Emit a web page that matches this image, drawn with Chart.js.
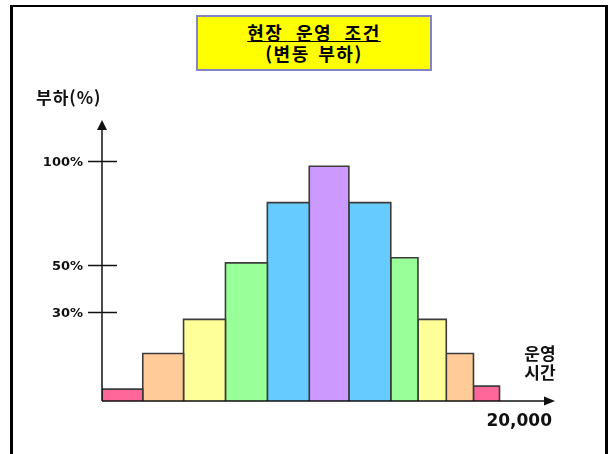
<!DOCTYPE html>
<html lang="ko">
<head>
<meta charset="utf-8">
<title>현장 운영 조건 (변동 부하)</title>
<script src="https://cdn.jsdelivr.net/npm/chart.js@4.4.1/dist/chart.umd.min.js"></script>
<style>
  html, body { margin: 0; padding: 0; background: #fff; }
  #wrap { position: relative; width: 608px; height: 454px; overflow: hidden; }
  #frame {
    position: absolute; left: 10px; top: 5px; width: 598px; height: 470px;
    box-sizing: border-box; border: 3px solid #000; border-top-width: 2px;
  }
  #title {
    position: absolute; left: 196px; top: 15px; width: 236px; height: 56px;
    box-sizing: border-box; background: #ffff00; border: 2px solid #8484c4;
    font-family: "Noto Sans CJK KR", sans-serif; font-weight: bold; color: #000;
    text-align: center; padding-top: 5px;
  }
  #title div { font-size: 18px; line-height: 21px; white-space: nowrap; letter-spacing: 1.5px; }
  #title .main { text-decoration: underline; word-spacing: 6px; }
  #title .sub { word-spacing: 2px; }
  #chart { position: absolute; left: 0; top: 0; }
</style>
</head>
<body>
<div id="wrap">
  <div id="frame"></div>
  <canvas id="chart" width="608" height="454"></canvas>
  <div id="title">
    <div class="main">현장 운영 조건</div>
    <div class="sub">(변동 부하)</div>
  </div>
</div>
<script>
// 데이터: 운영 시간 구간(시간) 경계와 구간별 부하(%)
const hourEdges = [0, 1800, 3600, 5450, 7300, 9150, 10900, 12750, 13950, 15200, 16400, 17550];
const loadPct = [4, 16, 27.5, 51, 80, 97.5, 80, 53.5, 27.5, 16, 5];
const yTicks = [30, 50, 100];
const yTickLabels = ['30%', '50%', '100%'];
const xEndLabel = '20,000';
const yTitle = '부하(%)';
const xTitle = ['운영', '시간'];

// 색상
const PINK = '#ff6699';
const PEACH = '#ffcc99';
const YELLOW = '#ffff99';
const GREEN = '#99ff99';
const BLUE = '#66ccff';
const PURPLE = '#cc99ff';
const barColors = [PINK, PEACH, YELLOW, GREEN, BLUE, PURPLE, BLUE, GREEN, YELLOW, PEACH, PINK];

// 세로축이 균일하지 않은 개념도 -> 구간별 선형 스케일
class PiecewiseScale extends Chart.LinearScale {
  toUnit(v) {
    const k = this.options.knots;
    for (let i = 1; i < k.length; i++) {
      if (v <= k[i][0] || i === k.length - 1) {
        const v0 = k[i - 1][0], u0 = k[i - 1][1], v1 = k[i][0], u1 = k[i][1];
        return u0 + (v - v0) / (v1 - v0) * (u1 - u0);
      }
    }
    return v;
  }
  getPixelForValue(v, index) {
    return super.getPixelForValue(this.toUnit(v), index);
  }
}
PiecewiseScale.id = 'piecewise';
PiecewiseScale.defaults = Chart.LinearScale.defaults;
Chart.register(PiecewiseScale);

// 막대(히스토그램) 하나 = 사각형 꼭짓점 4개
const datasets = loadPct.map((v, i) => ({
  data: [
    { x: hourEdges[i], y: 0 },
    { x: hourEdges[i], y: v },
    { x: hourEdges[i + 1], y: v },
    { x: hourEdges[i + 1], y: 0 }
  ],
  backgroundColor: barColors[i],
  borderColor: '#3c3c3c',
  borderWidth: 1.6,
  borderJoinStyle: 'miter',
  fill: 'origin',
  tension: 0,
  pointRadius: 0
}));

const INK = '#111111';
const KR_FONT = '"Noto Sans CJK KR", sans-serif';

const axesPlugin = {
  id: 'axesArrows',
  afterDatasetsDraw(chart) {
    const { ctx, chartArea: a, scales: { x, y } } = chart;
    const x0 = a.left, y0 = a.bottom;
    ctx.save();
    ctx.strokeStyle = INK;
    ctx.fillStyle = INK;
    ctx.lineWidth = 1.5;

    // 세로축 + 화살표
    ctx.beginPath();
    ctx.moveTo(x0, y0);
    ctx.lineTo(x0, a.top + 8);
    ctx.stroke();
    ctx.beginPath();
    ctx.moveTo(x0, a.top);
    ctx.lineTo(x0 - 5, a.top + 10);
    ctx.lineTo(x0 + 5, a.top + 10);
    ctx.closePath();
    ctx.fill();

    // 가로축 + 화살표
    ctx.beginPath();
    ctx.moveTo(x0, y0);
    ctx.lineTo(a.right - 9, y0);
    ctx.stroke();
    ctx.beginPath();
    ctx.moveTo(a.right, y0);
    ctx.lineTo(a.right - 11, y0 - 4.5);
    ctx.lineTo(a.right - 11, y0 + 4.5);
    ctx.closePath();
    ctx.fill();

    // 눈금 + 라벨
    ctx.font = 'bold 13px "DejaVu Sans", sans-serif';
    ctx.textAlign = 'right';
    ctx.textBaseline = 'middle';
    yTicks.forEach((t, i) => {
      const py = Math.round(y.getPixelForValue(t)) + 0.5;
      ctx.beginPath();
      ctx.moveTo(x0 - 14, py);
      ctx.lineTo(x0 + 15, py);
      ctx.stroke();
      ctx.fillText(yTickLabels[i], x0 - 19, py + 1);
    });

    // 축 제목
    ctx.font = 'bold 17px ' + KR_FONT;
    ctx.textAlign = 'left';
    ctx.letterSpacing = '1px';
    ctx.fillText(yTitle, 36, 98);
    ctx.letterSpacing = '0px';

    ctx.textAlign = 'center';
    ctx.fillText(xTitle[0], 540, 354);
    ctx.fillText(xTitle[1], 540, 373);

    ctx.font = 'bold 17px "DejaVu Sans", sans-serif';
    ctx.textAlign = 'right';
    ctx.fillText(xEndLabel, x.getPixelForValue(x.max) - 3, 422);
    ctx.restore();
  }
};

new Chart(document.getElementById('chart'), {
  type: 'line',
  data: { datasets },
  options: {
    responsive: false,
    animation: false,
    events: [],
    layout: { padding: { left: 102, top: 120, right: 53, bottom: 53 } },
    scales: {
      x: { type: 'linear', min: 0, max: 20000, display: false },
      y: {
        type: 'piecewise',
        min: 0,
        max: 1,
        knots: [[0, 0], [30, 0.317], [50, 0.484], [100, 0.854], [120, 1]],
        display: false
      }
    },
    plugins: {
      legend: { display: false },
      tooltip: { enabled: false },
      title: { display: false }
    }
  },
  plugins: [axesPlugin]
});
</script>
</body>
</html>
